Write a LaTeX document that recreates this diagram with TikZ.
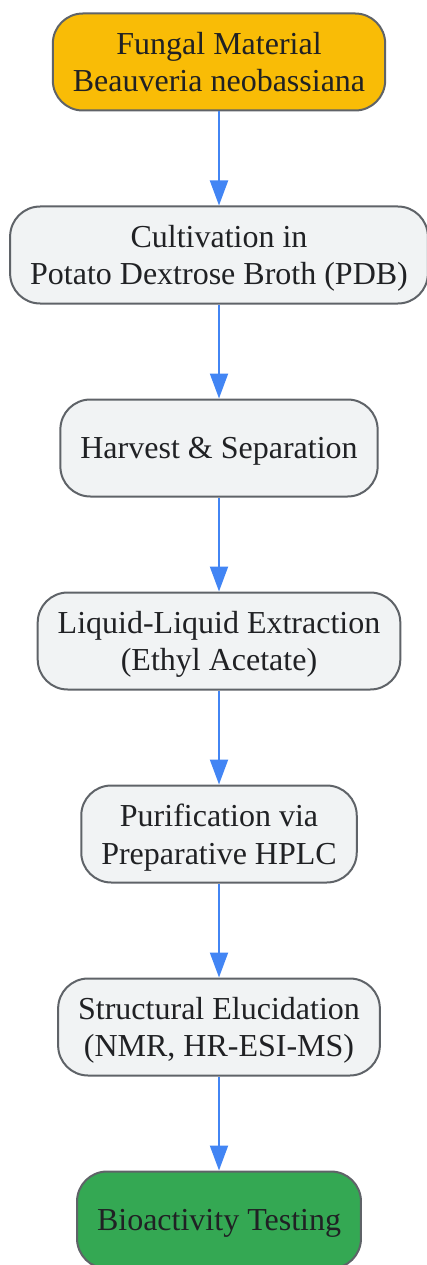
\documentclass[tikz,border=0pt]{standalone}
\usepackage{fontspec}
\setmainfont{Liberation Serif}
\usetikzlibrary{arrows.meta,positioning}

\definecolor{stagefill}{HTML}{F1F3F4}
\definecolor{stageedge}{HTML}{5F6368}
\definecolor{startfill}{HTML}{F9BC06}
\definecolor{endfill}{HTML}{34A853}
\definecolor{flowblue}{HTML}{4285F4}
\definecolor{textdark}{HTML}{202124}

\begin{document}
\begin{tikzpicture}[
  x=1pt, y=1pt,
  font=\fontsize{32}{37.5}\selectfont,
  stage/.style={draw=stageedge, line width=2pt, rounded corners=30pt, align=center,
                minimum height=97pt, inner xsep=20pt, text depth=0pt,
                fill=stagefill, text=textdark},
  flow/.style={draw=flowblue, line width=2pt, -{Triangle[length=25pt,width=18pt]}},
  node distance=94pt
]
\useasboundingbox (0,0) rectangle (426,-1265);

\node[stage, fill=startfill] (fungus) at (219,-62) {Fungal Material\\Beauveria neobassiana};
\node[stage, below=of fungus] (culture) {Cultivation in\\Potato Dextrose Broth (PDB)};
\node[stage, below=of culture] (harvest) {Harvest \& Separation};
\node[stage, below=of harvest] (extract) {Liquid-Liquid Extraction\\(Ethyl Acetate)};
\node[stage, below=of extract] (hplc) {Purification via\\Preparative HPLC};
\node[stage, below=of hplc] (elucid) {Structural Elucidation\\(NMR, HR-ESI-MS)};
\node[stage, below=of elucid, fill=endfill] (bioassay) {Bioactivity Testing};

\draw[flow] (fungus) -- (culture);
\draw[flow] (culture) -- (harvest);
\draw[flow] (harvest) -- (extract);
\draw[flow] (extract) -- (hplc);
\draw[flow] (hplc) -- (elucid);
\draw[flow] (elucid) -- (bioassay);
\end{tikzpicture}
\end{document}
